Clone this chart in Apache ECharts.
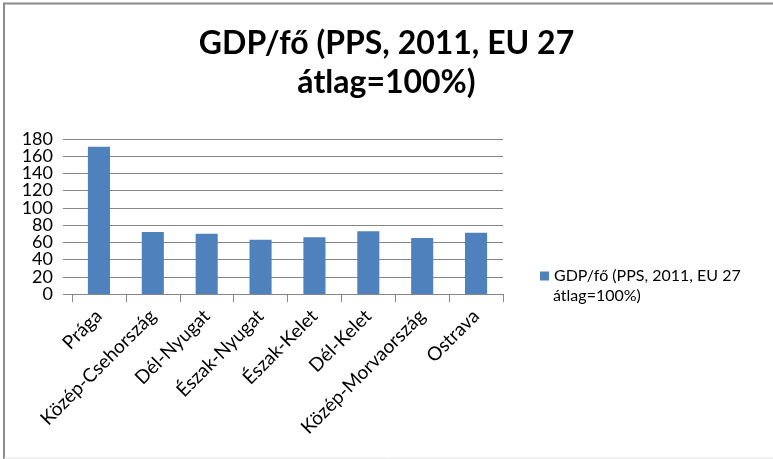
<!DOCTYPE html>
<html><head><meta charset="utf-8">
<script src="https://cdn.jsdelivr.net/npm/echarts@6/dist/echarts.min.js"></script>
<style>html,body{margin:0;padding:0;background:#fff}#c{width:773px;height:459px}</style>
</head><body><div id="c"></div>
<script>
const titleText = 'GDP/fő (PPS, 2011, EU 27\nátlag=100%)';
const seriesName = 'GDP/fő (PPS, 2011, EU 27\nátlag=100%)';
const legendLines = ['GDP/fő (PPS, 2011, EU 27', 'átlag=100%)'];
const categories = ['Prága','Közép-Csehország','Dél-Nyugat','Észak-Nyugat','Észak-Kelet','Dél-Kelet','Közép-Morvaország','Ostrava'];
const values = [171, 72, 70, 63, 66, 73, 65, 71];
const yTicks = [0, 20, 40, 60, 80, 100, 120, 140, 160, 180];

const font = 'Lato, "Open Sans", sans-serif';
const yLabelStyle = {margin:19, fontFamily:font, fontSize:18, color:'#000', showMinLabel:true, showMaxLabel:true, hideOverlap:false};
const chart = echarts.init(document.getElementById('c'), null, {renderer:'canvas'});
chart.setOption({
  animation:false,
  backgroundColor:'#fff',
  graphic:[
    {type:'rect', shape:{x:4,y:3.5,width:790,height:470}, style:{fill:'none', stroke:'#8a8a8a', lineWidth:2}, silent:true},
    {type:'line', shape:{x1:4,y1:458,x2:773,y2:458}, style:{stroke:'#e2e2e2', lineWidth:1}, silent:true},
    {type:'text', left:553, top:288, style:{text:legendLines[1], fontFamily:font, fontSize:16, fill:'#000'}, silent:true}
  ],
  title:{text:titleText, left:'center', top:19, padding:[5,19,5,5], textStyle:{fontFamily:font, fontWeight:'bold', fontSize:32, lineHeight:39, color:'#000'}},
  legend:{show:true, left:535, top:263, itemWidth:9, itemHeight:9, itemGap:4,
    icon:'rect', formatter:()=>legendLines[0], textStyle:{fontFamily:font, fontSize:16, color:'#000'}, data:[seriesName]},
  grid:{left:72, right:270, top:139, bottom:165, containLabel:false},
  xAxis:{type:'category', data:categories,
    axisLine:{show:true, lineStyle:{color:'#868686', width:1}},
    axisTick:{show:true, length:8, alignWithLabel:false, lineStyle:{color:'#868686'}},
    axisLabel:{rotate:45, interval:0, margin:19, fontFamily:font, fontSize:19, color:'#000'}},
  yAxis:[
    {type:'value', position:'left', min:0, max:180, interval:20,
      axisLine:{show:false},
      axisTick:{show:true, length:9, lineStyle:{color:'#868686'}},
      splitLine:{show:true, lineStyle:{color:'#868686', width:1}},
      axisLabel:Object.assign({}, yLabelStyle, {formatter:v=>(yTicks.includes(v) && yTicks.indexOf(v)%2===0)?String(v):''})},
    {type:'value', position:'left', offset:0, min:0, max:180, interval:20,
      axisLine:{show:false}, axisTick:{show:false}, splitLine:{show:false},
      axisLabel:Object.assign({}, yLabelStyle, {formatter:v=>(yTicks.includes(v) && yTicks.indexOf(v)%2===1)?String(v):''})}
  ],
  series:[{name:seriesName, type:'bar', yAxisIndex:0, data:values, barWidth:'41%', itemStyle:{color:'#4F81BD'}}]
});
</script></body></html>
